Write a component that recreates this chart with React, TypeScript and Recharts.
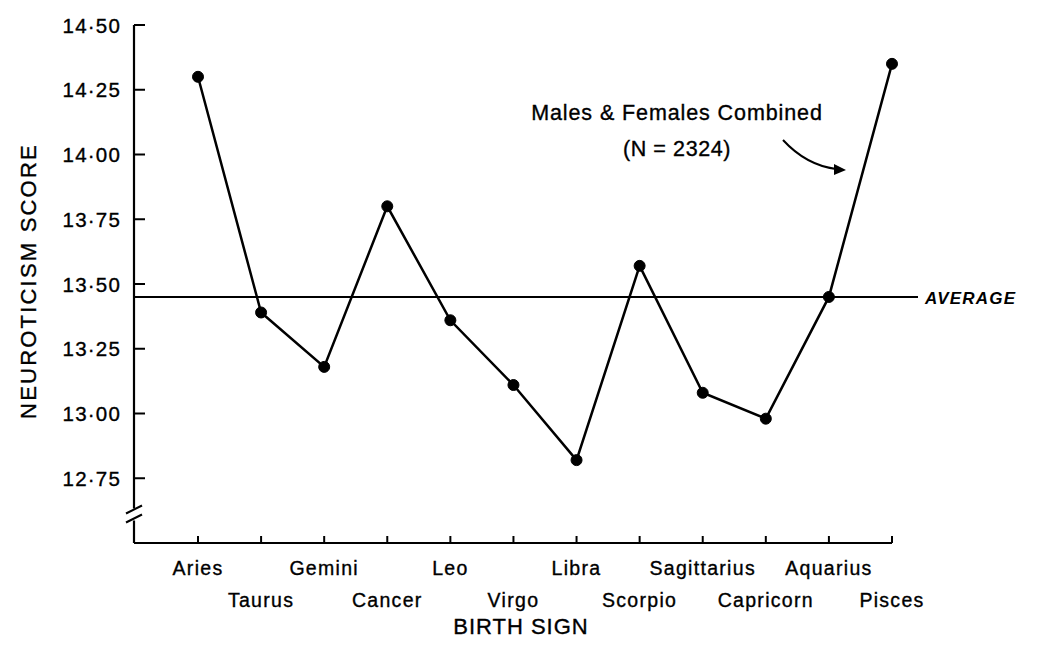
import React from 'react';
import { LineChart, Line, XAxis, YAxis, ReferenceLine, Customized } from 'recharts';

const signs = ['Aries', 'Taurus', 'Gemini', 'Cancer', 'Leo', 'Virgo', 'Libra', 'Scorpio', 'Sagittarius', 'Capricorn', 'Aquarius', 'Pisces'];
const scores = [14.30, 13.39, 13.18, 13.80, 13.36, 13.11, 12.82, 13.57, 13.08, 12.98, 13.45, 14.35];
const yTicks = [12.75, 13.0, 13.25, 13.5, 13.75, 14.0, 14.25, 14.5];
const yTickLabels = ['12·75', '13·00', '13·25', '13·50', '13·75', '14·00', '14·25', '14·50'];
const breakValue = 12.61;
const averageScore = 13.45;
const yDomain = [12.5, 14.5];

const data = signs.map((s, i) => ({ sign: s, score: scores[i] }));

const FONT = '"Liberation Sans", Arial, Helvetica, sans-serif';
const TXT = { fontFamily: FONT, fill: '#000', stroke: '#000', strokeWidth: 0.35 };

const XTick = (props: any) => {
  const { x, y, payload, index } = props;
  const row = index % 2;
  return (
    <g>
      <line x1={x} y1={y} x2={x} y2={y - 7} stroke="#000" strokeWidth={2} />
      <text
        x={x}
        y={y + (row === 0 ? 32 : 64)}
        textAnchor="middle"
        fontSize={19.5}
        letterSpacing={1.3}
        {...TXT}
      >
        {payload.value}
      </text>
    </g>
  );
};

const YTick = (props: any) => {
  const { x, y, payload } = props;
  if (payload.value === breakValue) {
    return (
      <g>
        <rect x={x - 3} y={y - 6} width={6} height={12} fill="#fff" />
        <line x1={x - 8} y1={y - 1} x2={x + 8} y2={y - 9} stroke="#000" strokeWidth={2} />
        <line x1={x - 8} y1={y + 8} x2={x + 8} y2={y} stroke="#000" strokeWidth={2} />
      </g>
    );
  }
  const idx = yTicks.indexOf(payload.value);
  return (
    <g>
      <line x1={x} y1={y} x2={x + 11} y2={y} stroke="#000" strokeWidth={2} />
      <text
        x={x - 13}
        y={y + 7.5}
        textAnchor="end"
        fontSize={20.5}
        letterSpacing={1.2}
        {...TXT}
      >
        {idx >= 0 ? yTickLabels[idx] : payload.value}
      </text>
    </g>
  );
};

const AverageShape = (p: any) => {
  const x1 = p.x1;
  const y1 = p.y1;
  const x2 = p.x2;
  const y2 = p.y2;
  return (
    <g>
      <line x1={x1} y1={y1} x2={x2 + 26} y2={y2} stroke="#000" strokeWidth={2} />
      <text
        x={x2 + 33}
        y={y2 + 7}
        fontFamily={FONT}
        fontSize={17}
        fontWeight="bold"
        fontStyle="italic"
        letterSpacing={1.2}
        fill="#000"
      >
        AVERAGE
      </text>
    </g>
  );
};

const Annotations = () => (
  <g>
    <text x={677} y={120} textAnchor="middle" fontSize={21.5} letterSpacing={0.9} {...TXT}>
      Males &amp; Females Combined
    </text>
    <text x={677} y={156} textAnchor="middle" fontSize={21.5} letterSpacing={0.6} {...TXT}>
      (N = 2324)
    </text>
    <path d="M783,140 Q806,165 836,169" fill="none" stroke="#000" strokeWidth={2} />
    <polygon points="846,170 834,164 834,175" fill="#000" />
    <text
      x={28}
      y={281}
      textAnchor="middle"
      dominantBaseline="central"
      transform="rotate(-90 28 281)"
      fontSize={22}
      letterSpacing={2.2}
      {...TXT}
    >
      NEUROTICISM SCORE
    </text>
    <text x={521} y={634} textAnchor="middle" fontSize={22} letterSpacing={1} {...TXT}>
      BIRTH SIGN
    </text>
  </g>
);

export default function App() {
  return (
    <div style={{ position: 'absolute', left: 0, top: 0, width: 1042, height: 649, background: '#fff' }}>
      <LineChart width={1042} height={649} data={data} margin={{ top: 25, right: 150, bottom: 0, left: 0 }}>
        <XAxis
          dataKey="sign"
          height={106}
          padding={{ left: 64, right: 0 }}
          axisLine={{ stroke: '#000', strokeWidth: 2.2 }}
          tickLine={false}
          tickSize={0}
          tickMargin={0}
          interval={0}
          tick={<XTick />}
        />
        <YAxis
          type="number"
          width={134}
          domain={yDomain}
          ticks={[breakValue, ...yTicks]}
          axisLine={{ stroke: '#000', strokeWidth: 2.2 }}
          tickLine={false}
          tickSize={0}
          tickMargin={0}
          interval={0}
          tick={<YTick />}
        />
        <ReferenceLine y={averageScore} shape={<AverageShape />} ifOverflow="visible" />
        <Line
          type="linear"
          dataKey="score"
          stroke="#000"
          strokeWidth={2.5}
          dot={{ r: 5.5, fill: '#000', stroke: '#000', strokeWidth: 1 }}
          activeDot={false}
          isAnimationActive={false}
        />
        <Customized component={<Annotations />} />
      </LineChart>
    </div>
  );
}
